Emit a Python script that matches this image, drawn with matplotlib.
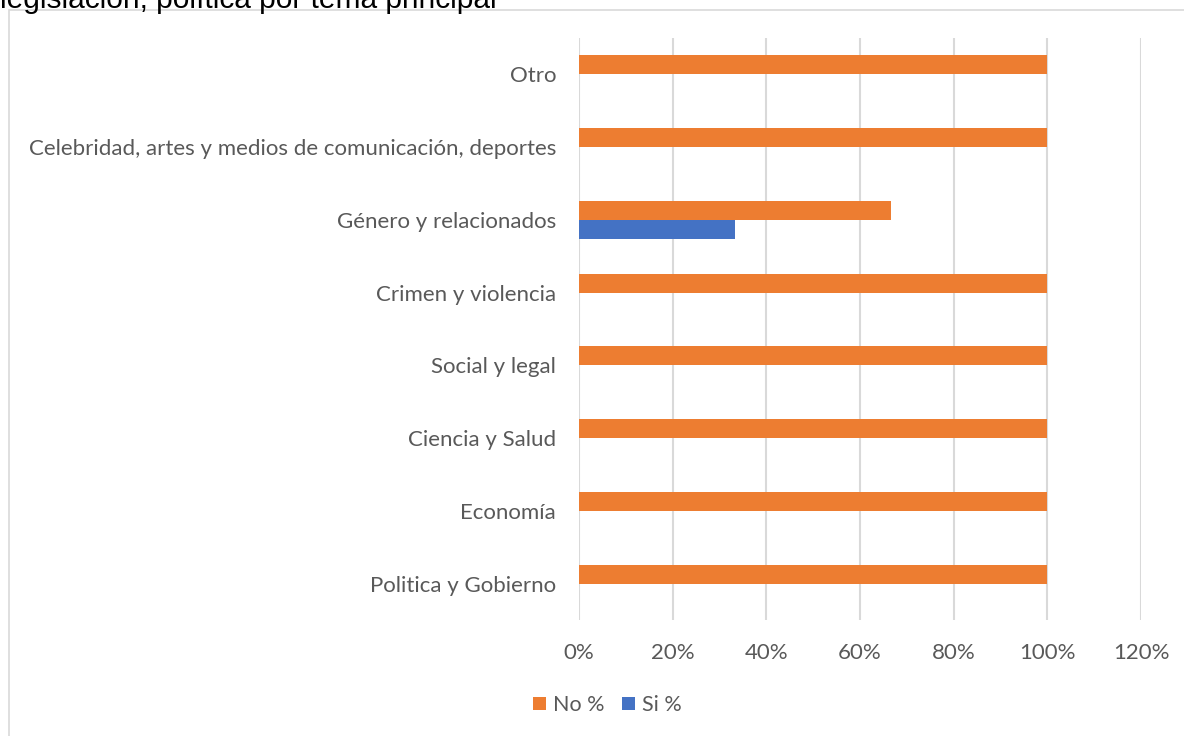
import matplotlib.pyplot as plt
import numpy as np

# data (bottom to top as drawn)
categories = ['Politica y Gobierno', 'Economía', 'Ciencia y Salud', 'Social y legal',
              'Crimen y violencia', 'Género y relacionados',
              'Celebridad, artes y medios de comunicación, deportes', 'Otro']
no_pct = [100, 100, 100, 100, 100, 66.7, 100, 100]
si_pct = [0, 0, 0, 0, 0, 33.3, 0, 0]
xticks = [0, 20, 40, 60, 80, 100, 120]

orange = '#ED7D31'
blue = '#4472C4'
grey = '#595959'

fig = plt.figure(figsize=(11.84, 7.36), dpi=100)
ax = fig.add_axes([0.489, 0.157, 0.4747, 0.792])

y = np.arange(len(categories))
h = 0.26
ax.barh(y + h / 2, no_pct, height=h, color=orange, label='No %', zorder=3)
ax.barh(y - h / 2, si_pct, height=h, color=blue, label='Si %', zorder=3)

ax.set_xlim(0, 120)
ax.set_ylim(-0.5, len(categories) - 0.5)
ax.set_xticks(xticks)
ax.set_xticklabels([f'{t}%' for t in xticks], fontsize=16, color=grey, family='Lato')
ax.set_yticks(y)
ax.set_yticklabels(categories, fontsize=16, color=grey, family='Lato')
ax.tick_params(length=0, pad=16, axis='x')
ax.tick_params(length=0, pad=16.5, axis='y')
ax.grid(axis='x', color='#d9d9d9', linewidth=1.5, zorder=0)
for s in ax.spines.values():
    s.set_visible(False)

leg = fig.legend(loc='center', bbox_to_anchor=(0.513, 0.042), ncol=2, frameon=False,
                 prop={'family': 'Lato', 'size': 15.5}, handlelength=0.6, handleheight=0.6,
                 columnspacing=0.8, handletextpad=0.35)
for t in leg.get_texts():
    t.set_color(grey)

# chart frame
fig.add_artist(plt.Rectangle((9 / 1184, -0.01), 1.2, 1 - 10 / 736 + 0.01, transform=fig.transFigure,
                             fill=False, edgecolor='#d9d9d9', linewidth=1.2))

# title, cut off at the top edge as in the source image
fig.text(0.0, 1 - 8 / 736, 'legislación, política por tema principal', fontsize=21.5,
         family='Liberation Sans', color='black', va='baseline', ha='left')

fig.savefig('out.png', dpi=100)
